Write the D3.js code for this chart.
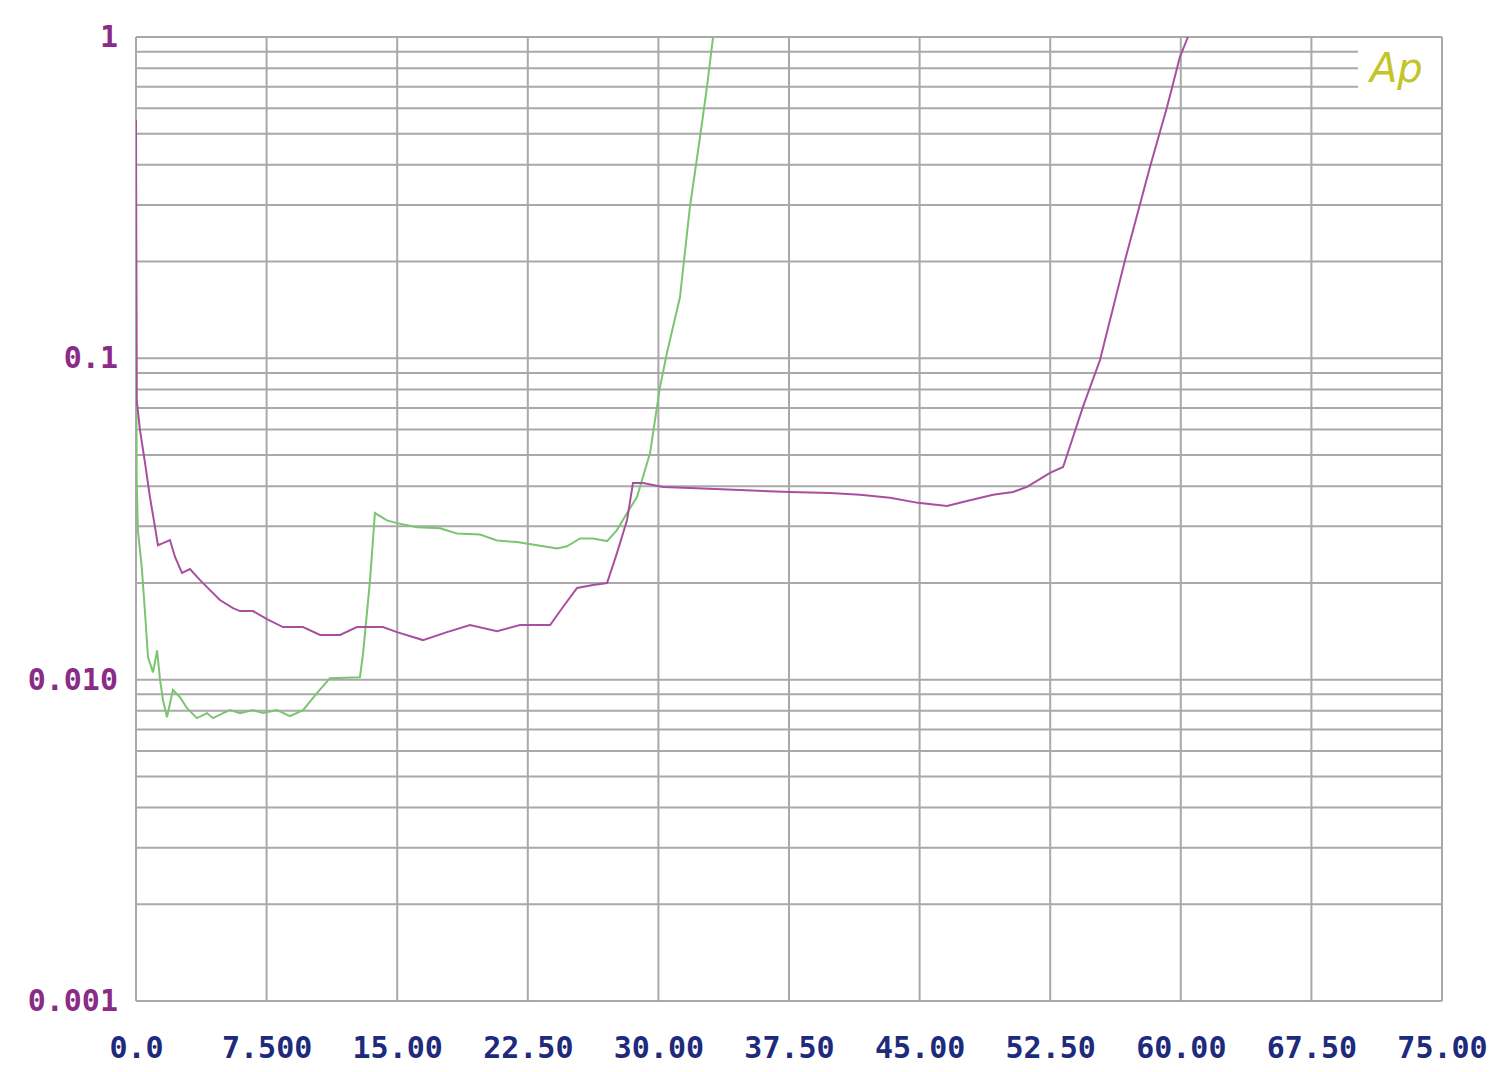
<!DOCTYPE html>
<html>
<head>
<meta charset="utf-8">
<script src="https://cdn.jsdelivr.net/npm/d3@7"></script>
<style>
  html, body { margin: 0; padding: 0; background: #ffffff; }
  svg { display: block; }
</style>
</head>
<body>
<svg id="chart" width="1500" height="1072"></svg>
<script>
// ---- data ----
const xTickValues = [0, 7.5, 15, 22.5, 30, 37.5, 45, 52.5, 60, 67.5, 75];
const xTickLabels = ["0.0", "7.500", "15.00", "22.50", "30.00", "37.50", "45.00", "52.50", "60.00", "67.50", "75.00"];
const yTickValues = [1, 0.1, 0.01, 0.001];
const yTickLabels = ["1", "0.1", "0.010", "0.001"];

// purple trace
const purpleX = [0, 0.04, 0.23, 0.52, 0.80, 1.09, 1.26, 1.55, 1.95, 2.24, 2.64, 3.10, 3.68, 4.25, 4.82, 5.57, 5.97, 6.72, 7.52, 8.44, 9.59, 10.57, 11.72, 12.69, 14.18, 14.99, 16.48, 17.86, 19.18, 20.73, 22.05, 23.78, 24.52, 25.33, 26.24, 27.05, 27.62, 28.20, 28.54, 29.12, 30.27, 31.82, 34.69, 37.56, 39.86, 41.58, 43.30, 44.91, 46.57, 47.72, 49.22, 50.37, 51.17, 52.49, 53.24, 53.81, 54.38, 55.36, 56.80, 58.23, 59.21, 59.95, 60.41];
const purpleY = [0.552, 0.0742, 0.0598, 0.0472, 0.0370, 0.0299, 0.0262, 0.0266, 0.0272, 0.0241, 0.0215, 0.0221, 0.0204, 0.0190, 0.0177, 0.0167, 0.01635, 0.01635, 0.01544, 0.01458, 0.01458, 0.01377, 0.01377, 0.01458, 0.01458, 0.01406, 0.01328, 0.01406, 0.01479, 0.01416, 0.01479, 0.01479, 0.01683, 0.01929, 0.01970, 0.01999, 0.02477, 0.03139, 0.04093, 0.04093, 0.03977, 0.03949, 0.0389, 0.0384, 0.0381, 0.0376, 0.0368, 0.0355, 0.0347, 0.0360, 0.0376, 0.0384, 0.0398, 0.0440, 0.0459, 0.0569, 0.0706, 0.0988, 0.2023, 0.394, 0.606, 0.867, 1.0];

// green trace
const greenX = [0, 0.04, 0.11, 0.33, 0.52, 0.69, 0.98, 1.21, 1.38, 1.55, 1.78, 2.12, 2.53, 2.93, 3.50, 4.08, 4.42, 5.00, 5.40, 5.97, 6.72, 7.29, 8.10, 8.84, 9.59, 10.39, 11.14, 12.86, 13.04, 13.44, 13.72, 14.41, 14.99, 16.14, 17.46, 18.43, 19.76, 20.73, 21.88, 23.03, 24.18, 24.75, 25.50, 26.24, 27.05, 27.62, 28.20, 28.77, 29.52, 30.09, 30.49, 31.24, 31.81, 32.39, 32.79, 33.14];
const greenY = [0.26, 0.0417, 0.0291, 0.0224, 0.0161, 0.01174, 0.01054, 0.01234, 0.0100, 0.00863, 0.00764, 0.00928, 0.00882, 0.00815, 0.00759, 0.00787, 0.00759, 0.00787, 0.00804, 0.00787, 0.00804, 0.00787, 0.00804, 0.00770, 0.00804, 0.00908, 0.01011, 0.01018, 0.01208, 0.0204, 0.0330, 0.0313, 0.0307, 0.0298, 0.0296, 0.0285, 0.0283, 0.0271, 0.0268, 0.0262, 0.0256, 0.0260, 0.0275, 0.0275, 0.0270, 0.0292, 0.0330, 0.0370, 0.0507, 0.0813, 0.1039, 0.1552, 0.2958, 0.4884, 0.699, 1.0];

// ---- layout ----
const plotLeft = 136, plotRight = 1442, plotTop = 37, plotBottom = 1001;
const gridColor = "#a9a9a9";
const svg = d3.select("#chart");

const x = d3.scaleLinear().domain([0, 75]).range([plotLeft, plotRight]);
const y = d3.scaleLog().domain([0.001, 1]).range([plotBottom, plotTop]);

// minor/major horizontal grid values
const hGrid = [];
[0.001, 0.01, 0.1].forEach(dec => { for (let k = 1; k <= 10; k++) hGrid.push(+(dec * k).toPrecision(3)); });
const uniqH = Array.from(new Set(hGrid));
const shortLines = [0.7, 0.8, 0.9]; // shortened near logo

const grid = svg.append("g");
grid.selectAll("line.h").data(uniqH).join("line")
  .attr("class", "h")
  .attr("x1", plotLeft)
  .attr("x2", d => shortLines.includes(d) ? 1358 : plotRight)
  .attr("y1", d => y(d)).attr("y2", d => y(d))
  .attr("stroke", gridColor).attr("stroke-width", 2);

grid.selectAll("line.v").data(xTickValues).join("line")
  .attr("class", "v")
  .attr("x1", d => x(d)).attr("x2", d => x(d))
  .attr("y1", plotTop).attr("y2", plotBottom)
  .attr("stroke", gridColor).attr("stroke-width", 2);

// clip
svg.append("clipPath").attr("id", "plotclip")
  .append("rect").attr("x", plotLeft).attr("y", plotTop - 1)
  .attr("width", plotRight - plotLeft).attr("height", plotBottom - plotTop + 2);

const line = d3.line().x(d => x(d[0])).y(d => y(d[1]));

const purpleData = purpleX.map((v, i) => [v, purpleY[i]]);
const greenData = greenX.map((v, i) => [v, greenY[i]]);

const plot = svg.append("g").attr("clip-path", "url(#plotclip)");
plot.append("path").datum(greenData)
  .attr("d", line).attr("fill", "none")
  .attr("stroke", "#7cc472").attr("stroke-width", 2);
plot.append("path").datum(purpleData)
  .attr("d", line).attr("fill", "none")
  .attr("stroke", "#a8509f").attr("stroke-width", 2);

// y axis labels
const yAxis = d3.axisLeft(y).tickValues(yTickValues)
  .tickFormat((d, i) => yTickLabels[i]).tickSize(0).tickPadding(18);
const gy = svg.append("g").attr("transform", `translate(${plotLeft},0)`).call(yAxis);
gy.select(".domain").remove();
gy.selectAll("text")
  .attr("fill", "#8a2b88")
  .style("font-family", "'DejaVu Sans Mono', monospace")
  .style("font-weight", "bold")
  .style("font-size", "30px");

// x axis labels
const xAxis = d3.axisBottom(x).tickValues(xTickValues)
  .tickFormat((d, i) => xTickLabels[i]).tickSize(0).tickPadding(36);
const gx = svg.append("g").attr("transform", `translate(0,${plotBottom})`).call(xAxis);
gx.select(".domain").remove();
gx.selectAll("text")
  .attr("fill", "#1e2a7c")
  .style("font-family", "'DejaVu Sans Mono', monospace")
  .style("font-weight", "bold")
  .style("font-size", "30px");

// Ap logo
svg.append("text")
  .attr("x", 1370).attr("y", 82)
  .attr("fill", "#c4c42a")
  .style("font-family", "'DejaVu Sans', sans-serif")
  .style("font-style", "italic")
  .style("font-weight", "200")
  .style("font-size", "40px")
  .text("Ap");
</script>
</body>
</html>
